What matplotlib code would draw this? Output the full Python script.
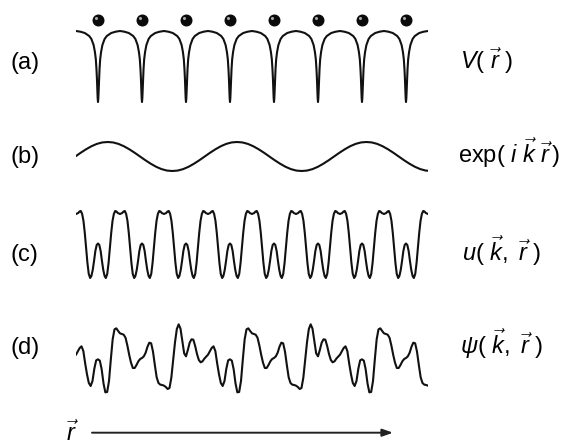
import numpy as np
import matplotlib
matplotlib.use('agg')
import matplotlib.pyplot as plt
from matplotlib import transforms

plt.rcParams['font.family'] = ['Liberation Sans', 'DejaVu Sans']
plt.rcParams['mathtext.fontset'] = 'custom'
plt.rcParams['mathtext.rm'] = 'Liberation Sans'
plt.rcParams['mathtext.it'] = 'Liberation Sans:italic'
plt.rcParams['mathtext.bf'] = 'Liberation Sans:bold'

# lattice sites (units of the lattice constant)
wells = [0, 1, 2, 3, 4, 5, 6, 7]

# (a) potential well, half profile: distance from site -> depth (arb. units)
v_t = [0, 0.008, 0.015, 0.025, 0.035, 0.05, 0.07, 0.1, 0.15, 0.2, 0.3, 0.4, 0.5]
v_depth = [71, 67, 59, 47, 38, 28, 21, 14, 8, 5, 2, 0.7, 0]

# (b) plane wave, one period sampled in 24 steps
wave_period = 2.94   # in lattice constants
wave_peak = 0.22     # position of the first maximum
wave_values = [1.0, 0.97, 0.87, 0.71, 0.5, 0.26, 0.0, -0.26, -0.5, -0.71, -0.87, -0.97,
               -1.0, -0.97, -0.87, -0.71, -0.5, -0.26, 0.0, 0.26, 0.5, 0.71, 0.87, 0.97]

# (c) lattice periodic part, half profile: distance from site -> height
u_t = [0, 0.03, 0.06, 0.09, 0.12, 0.15, 0.178, 0.21, 0.24, 0.27, 0.30, 0.33, 0.36,
       0.39, 0.42, 0.45, 0.5]
u_height = [34.5, 33, 27, 17, 8, 2, 0, 4, 15, 30, 45, 57, 64, 67, 66.5, 65, 64]

# (d) Bloch wave, repeats every 3 lattice constants, sampled every 1/24
psi_values = [104, 100, 74, 32, 5, 6, 39, 104, 164, 194, 197, 189, 182, 180, 178, 169,
              146, 118, 94, 78, 78, 87, 98, 105, 108, 113, 124, 142, 154, 152, 127, 87,
              50, 33, 28, 27, 25, 21, 15, 18, 49, 102, 155, 195, 209, 196, 158, 122,
              113, 132, 154, 164, 163, 144, 120, 102, 95, 98, 106, 112, 118, 128, 138, 143,
              129, 92, 59, 33, 24, 39, 76, 101]

left_labels = ['(a)', '(b)', '(c)', '(d)']
right_labels = [r'$\mathit{V(\ \vec{r}\ )}$',
                r'$\mathrm{exp(}\ \mathit{i}\ \vec{k}\ \vec{r}\,\mathrm{)}$',
                r'$\mathit{u(\ \vec{k},\ \vec{r}\ )}$',
                r'$\mathit{\psi(\ \vec{k},\ \vec{r}\ )}$']

W, H = 575, 445
X0, X1 = 76, 428
fig = plt.figure(figsize=(W / 100, H / 100), dpi=100)


def panel_axes(top_px, bottom_px, vmax, vmin, pad=18):
    per_px = (vmax - vmin) / (bottom_px - top_px)
    ax = fig.add_axes([X0 / W, 1 - (bottom_px + pad) / H, (X1 - X0) / W,
                       (bottom_px - top_px + 2 * pad) / H])
    ax.set_xlim(-0.5, 7.5)
    ax.set_ylim(vmin - pad * per_px, vmax + pad * per_px)
    ax.set_axis_off()
    return ax


def mirror(t, h):
    t = np.asarray(t, float)
    h = np.asarray(h, float)
    return np.concatenate([-t[::-1], t[1:]]), np.concatenate([h[::-1], h[1:]])


line_kw = dict(color='#111111', lw=1.5, solid_joinstyle='round')

# (a) potential with atoms
ax = panel_axes(31, 102, 0, -v_depth[0])
tc, hc = mirror(v_t, v_depth)
xs = np.concatenate([w + tc for w in wells])
ys = np.concatenate([-hc for w in wells])
ax.plot(xs, ys, **line_kw)
atom_height = 11
ax.scatter(wells, [atom_height] * len(wells), s=58, color='#0a0a0a', zorder=3)
hl = transforms.offset_copy(ax.transData, fig=fig, x=-1.2, y=1.4, units='points')
ax.scatter(wells, [atom_height] * len(wells), s=5, color='#d0d0d0', alpha=0.8,
           transform=hl, zorder=4, linewidths=0)

# (b) plane wave
ax = panel_axes(142, 171, 1, -1)
n = len(wave_values)
xs = np.concatenate([wave_peak + wave_period * (k + np.arange(n) / n) for k in range(-1, 4)])
ys = np.tile(wave_values, 5)
ax.plot(xs, ys, **line_kw)

# (c) periodic part
ax = panel_axes(211, 278, max(u_height), 0)
tc, hc = mirror(u_t, u_height)
xs = np.concatenate([w + tc for w in wells])
ys = np.concatenate([hc for w in wells])
ax.plot(xs, ys, **line_kw)

# (d) Bloch function
ax = panel_axes(324, 394, 210, 0)
n = len(psi_values)
xs = np.concatenate([3 * k + 3 * np.arange(n) / n for k in range(-1, 3)] + [[9]])
ys = np.concatenate([np.tile(psi_values, 4), [psi_values[0]]])
ax.plot(xs, ys, **line_kw)

# labels
baselines = [69, 163, 261, 354]
right_x = [460, 458, 462, 460]
for lab, rlab, yb, rx in zip(left_labels, right_labels, baselines, right_x):
    fig.text(11 / W, 1 - yb / H, lab, fontsize=17, va='baseline', ha='left')
    fig.text(rx / W, 1 - yb / H, rlab, fontsize=17, va='baseline', ha='left')

# position axis arrow
fig.text(66 / W, 1 - 441 / H, r'$\vec{r}$', fontsize=17, va='baseline', ha='left')
fig.add_artist(matplotlib.patches.FancyArrowPatch(
    (92 / W, 1 - 432.7 / H), (393 / W, 1 - 432.7 / H), transform=fig.transFigure,
    arrowstyle='-|>,head_length=0.45,head_width=0.16', mutation_scale=14,
    color='#222222', lw=1.4, shrinkA=0, shrinkB=0))

fig.savefig('out.png', dpi=100)
